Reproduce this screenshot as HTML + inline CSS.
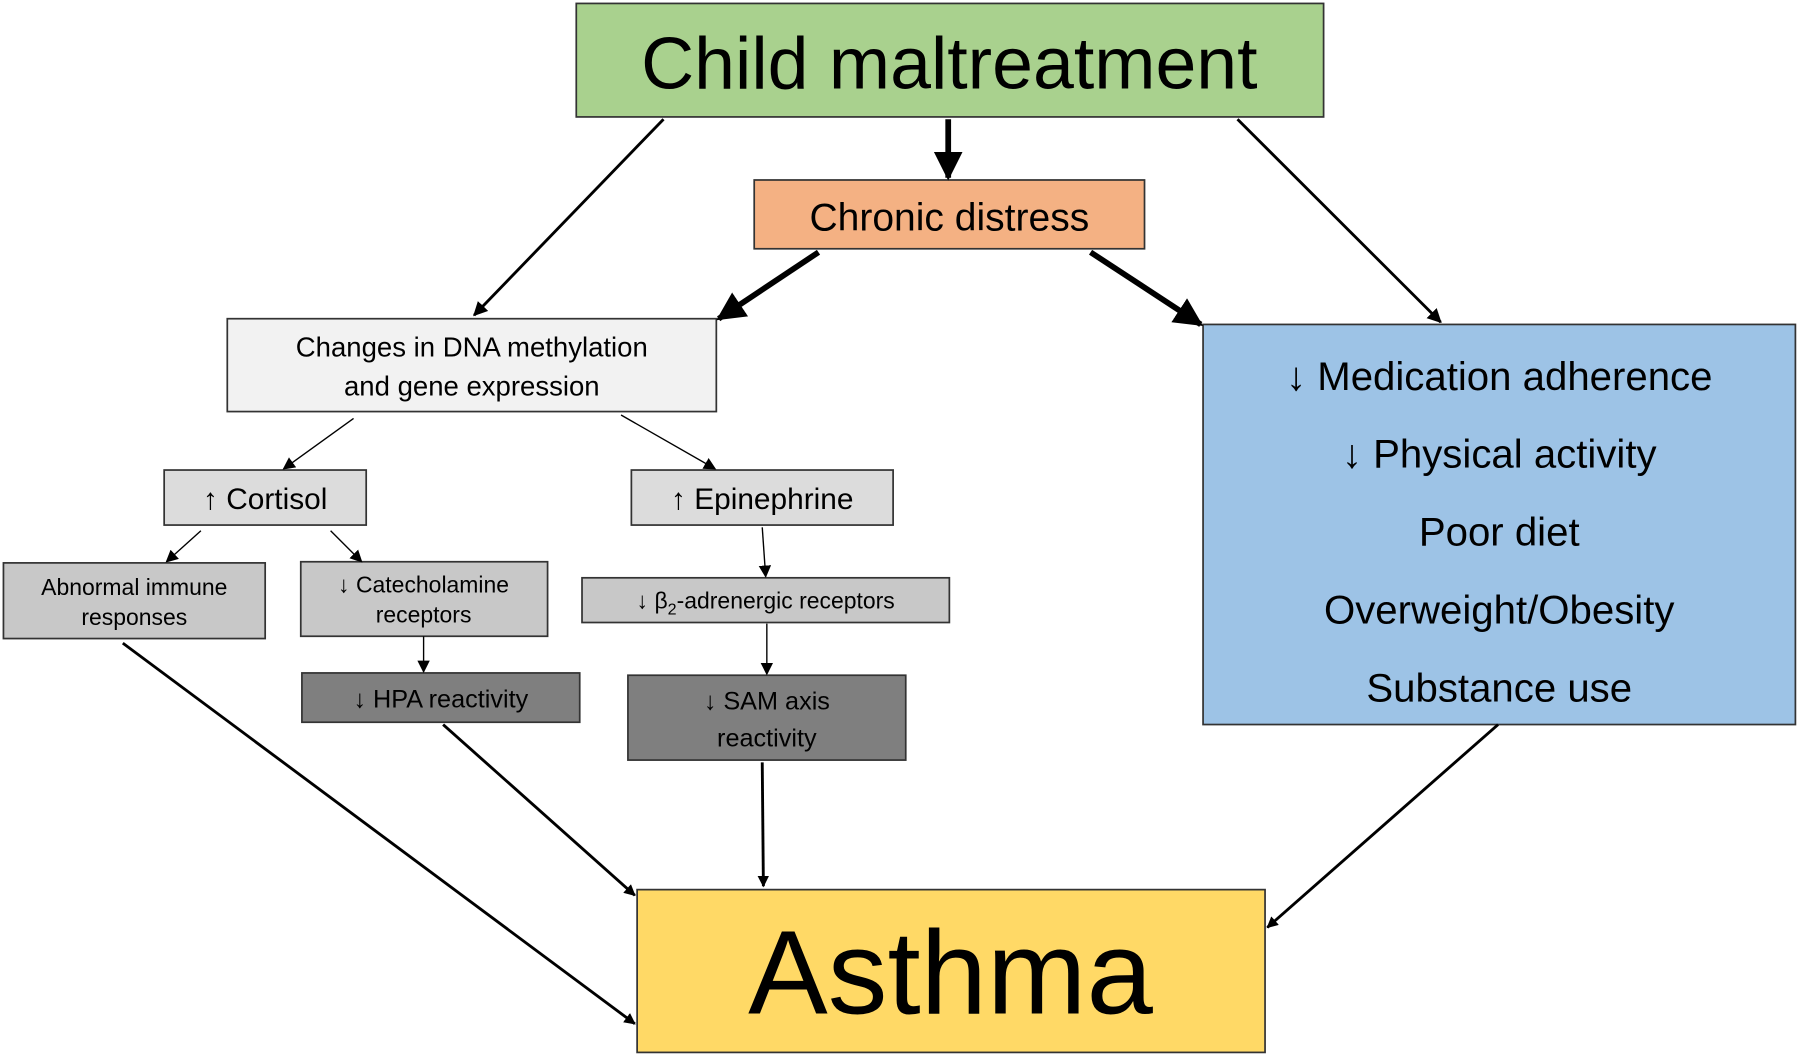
<!DOCTYPE html>
<html><head><meta charset="utf-8"><style>
html,body{margin:0;padding:0;background:#fff;}
svg{display:block;}
text{font-family:"Liberation Sans",Arial,sans-serif;fill:#000;}
</style></head><body>
<svg width="1800" height="1057" viewBox="0 0 1568 922" preserveAspectRatio="none" xmlns="http://www.w3.org/2000/svg">
<defs>
<marker id="a" viewBox="0 0 10 10" refX="9" refY="5" markerWidth="5" markerHeight="5" orient="auto" markerUnits="strokeWidth"><path d="M0,0 L10,5 L0,10 z" fill="#000"/></marker>
<marker id="b" viewBox="0 0 10 10" refX="9" refY="5" markerWidth="9" markerHeight="9" orient="auto" markerUnits="strokeWidth"><path d="M0,0 L10,5 L0,10 z" fill="#000"/></marker>
<marker id="c" viewBox="0 0 10 10" refX="9" refY="5" markerWidth="4" markerHeight="4" orient="auto" markerUnits="strokeWidth"><path d="M0,0 L10,5 L0,10 z" fill="#000"/></marker>
</defs>
<g stroke="#333" stroke-width="1.5">
<rect x="502" y="3" width="651" height="99" fill="#a9d18e"/>
<rect x="657" y="157" width="340" height="60" fill="#f4b183"/>
<rect x="198" y="278" width="426" height="81" fill="#f2f2f2"/>
<rect x="1048" y="283" width="516" height="349" fill="#9dc3e6"/>
<rect x="143" y="410" width="176" height="48" fill="#dcdcdc"/>
<rect x="550" y="410" width="228" height="48" fill="#dcdcdc"/>
<rect x="3" y="491" width="228" height="66" fill="#c8c8c8"/>
<rect x="262" y="490" width="215" height="65" fill="#c8c8c8"/>
<rect x="507" y="504" width="320" height="39" fill="#c8c8c8"/>
<rect x="263" y="587" width="242" height="43" fill="#7f7f7f"/>
<rect x="547" y="589" width="242" height="74" fill="#7f7f7f"/>
<rect x="555" y="776" width="547" height="142" fill="#ffd966"/>
</g>
<g stroke="#000" fill="none">
<line x1="578" y1="104" x2="413" y2="275" stroke-width="2.5" marker-end="url(#a)"/>
<line x1="826" y1="104" x2="826" y2="155" stroke-width="5" marker-end="url(#a)"/>
<line x1="1078" y1="104" x2="1255" y2="281" stroke-width="2.5" marker-end="url(#a)"/>
<line x1="713" y1="220" x2="626" y2="278" stroke-width="5" marker-end="url(#a)"/>
<line x1="950" y1="220" x2="1046" y2="283" stroke-width="5" marker-end="url(#a)"/>
<line x1="308" y1="365" x2="247" y2="409" stroke-width="1.2" marker-end="url(#b)"/>
<line x1="541" y1="362" x2="623" y2="409" stroke-width="1.2" marker-end="url(#b)"/>
<line x1="175" y1="463" x2="145" y2="490" stroke-width="1.2" marker-end="url(#b)"/>
<line x1="288" y1="463" x2="315" y2="490" stroke-width="1.2" marker-end="url(#b)"/>
<line x1="664" y1="460" x2="667" y2="503" stroke-width="1.2" marker-end="url(#b)"/>
<line x1="369" y1="555" x2="369" y2="586" stroke-width="1.2" marker-end="url(#b)"/>
<line x1="668" y1="544" x2="668" y2="588" stroke-width="1.2" marker-end="url(#b)"/>
<line x1="107" y1="561" x2="553" y2="893" stroke-width="2.5" marker-end="url(#c)"/>
<line x1="386" y1="632" x2="553" y2="781" stroke-width="2.5" marker-end="url(#c)"/>
<line x1="664" y1="665" x2="665" y2="773" stroke-width="2.5" marker-end="url(#c)"/>
<line x1="1305" y1="632" x2="1104" y2="809" stroke-width="2.5" marker-end="url(#c)"/>
</g>
<g text-anchor="middle">
<text x="827" y="77" font-size="64">Child  maltreatment</text>
<text x="827" y="201" font-size="34">Chronic distress</text>
<text x="411" y="311" font-size="24">Changes  in DNA methylation</text>
<text x="411" y="345" font-size="24">and gene  expression</text>
<text x="1306" y="340" font-size="35">↓ Medication adherence</text>
<text x="1306" y="408" font-size="35">↓ Physical activity</text>
<text x="1306" y="476" font-size="35">Poor diet</text>
<text x="1306" y="544" font-size="35">Overweight/Obesity</text>
<text x="1306" y="612" font-size="35">Substance use</text>
<text x="231" y="444" font-size="26">↑ Cortisol</text>
<text x="664" y="444" font-size="26">↑ Epinephrine</text>
<text x="117" y="519" font-size="20">Abnormal  immune</text>
<text x="117" y="545" font-size="20">responses</text>
<text x="369" y="517" font-size="20">↓ Catecholamine</text>
<text x="369" y="543" font-size="20">receptors</text>
<text x="667" y="531" font-size="20">↓  β<tspan font-size="14" dy="5">2</tspan><tspan dy="-5">-adrenergic receptors</tspan></text>
<text x="384" y="617" font-size="22">↓ HPA  reactivity</text>
<text x="668" y="619" font-size="22">↓ SAM axis</text>
<text x="668" y="651" font-size="22">reactivity</text>
<text x="828" y="884" font-size="104">Asthma</text>
</g>
</svg>
</body></html>
